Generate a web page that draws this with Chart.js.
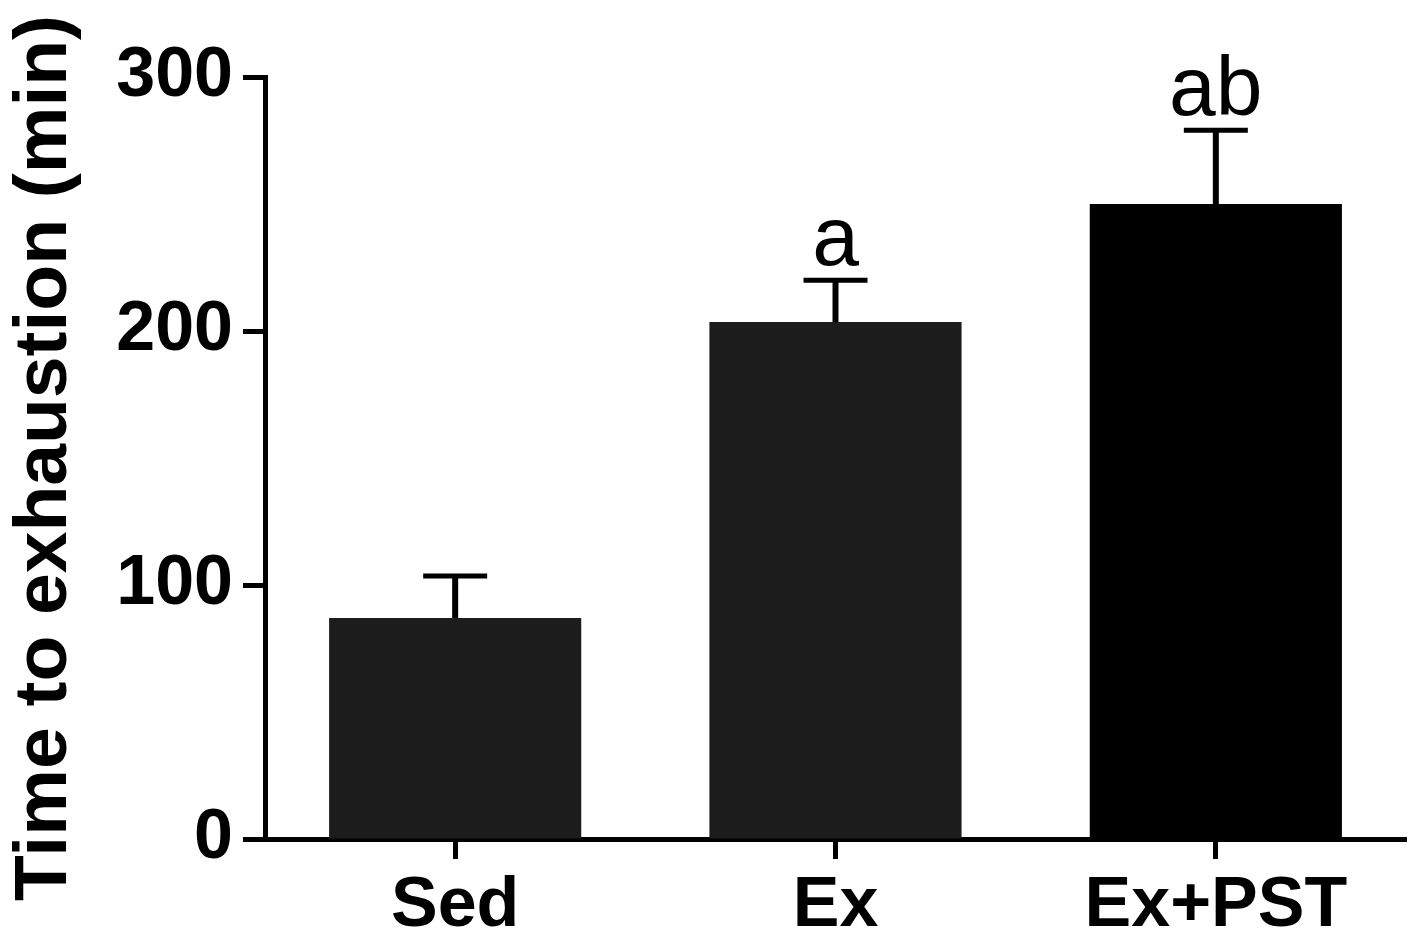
<!DOCTYPE html>
<html>
<head>
<meta charset="utf-8">
<script src="https://cdn.jsdelivr.net/npm/chart.js@4.4.1/dist/chart.umd.min.js"></script>
<style>
  html, body { margin: 0; padding: 0; background: #fff; }
  #wrap { width: 1423px; height: 948px; }
</style>
</head>
<body>
<div id="wrap"><canvas id="exhaustionChart" width="1423" height="948"></canvas></div>
<script>
// Data
const groups = ['Sed', 'Ex', 'Ex+PST'];
const meanMinutes = [87, 203.5, 250];
const semMinutes = [16.5, 16.5, 29];
const sigLetters = ['', 'a', 'ab'];
const yTicks = [0, 100, 200, 300];
const barColors = ['#1c1c1c', '#1c1c1c', '#000000'];

const FONT = '"Liberation Sans", Arial, Helvetica, sans-serif';

// Upper-only error bars + significance letters
const errorBars = {
    id: 'errorBars',
    afterDatasetsDraw(chart) {
        const ctx = chart.ctx;
        const x = chart.scales.x;
        const y = chart.scales.y;
        ctx.save();
        ctx.strokeStyle = '#000';
        ctx.fillStyle = '#000';
        meanMinutes.forEach((m, i) => {
            const cx = x.getPixelForValue(i);
            const yBar = y.getPixelForValue(m);
            const yTop = y.getPixelForValue(m + semMinutes[i]);
            ctx.lineWidth = 6;
            ctx.beginPath();
            ctx.moveTo(cx, yBar);
            ctx.lineTo(cx, yTop);
            ctx.stroke();
            ctx.lineWidth = 5;
            ctx.beginPath();
            ctx.moveTo(cx - 32, yTop);
            ctx.lineTo(cx + 32, yTop);
            ctx.stroke();
            if (sigLetters[i]) {
                ctx.font = '84px ' + FONT;
                ctx.textAlign = 'center';
                ctx.textBaseline = 'alphabetic';
                ctx.fillText(sigLetters[i], cx, yTop - 15);
            }
        });
        ctx.restore();
    }
};

const ctx = document.getElementById('exhaustionChart').getContext('2d');
new Chart(ctx, {
    type: 'bar',
    data: {
        labels: groups,
        datasets: [{
            data: meanMinutes,
            backgroundColor: barColors,
            borderWidth: 0,
            categoryPercentage: 1,
            barPercentage: 0.663
        }]
    },
    options: {
        responsive: false,
        animation: false,
        devicePixelRatio: 1,
        layout: { padding: { top: 77, right: 17, bottom: 0, left: 0 } },
        plugins: {
            legend: { display: false },
            tooltip: { enabled: false }
        },
        scales: {
            x: {
                grid: {
                    offset: false,
                    drawOnChartArea: false,
                    tickLength: 20,
                    tickWidth: 5,
                    tickColor: '#000'
                },
                border: { color: '#000', width: 5 },
                ticks: {
                    color: '#000',
                    font: { family: FONT, size: 70, weight: 'bold' },
                    padding: 6
                },
                afterFit(scale) { scale.height = 109; }
            },
            y: {
                min: 0,
                max: 300,
                afterBuildTicks(scale) {
                    scale.ticks = yTicks.map(v => ({ value: v }));
                },
                grid: {
                    drawOnChartArea: false,
                    tickLength: 22,
                    tickWidth: 5,
                    tickColor: '#000'
                },
                border: { color: '#000', width: 5 },
                ticks: {
                    color: '#000',
                    font: { family: FONT, size: 70, weight: 'bold' },
                    padding: 10
                },
                title: {
                    display: true,
                    text: 'Time to exhaustion (min)',
                    color: '#000',
                    font: { family: FONT, size: 75, weight: 'bold' },
                    padding: { top: 0, bottom: 0 }
                },
                afterFit(scale) { scale.width = 265; }
            }
        }
    },
    plugins: [errorBars]
});
</script>
</body>
</html>
